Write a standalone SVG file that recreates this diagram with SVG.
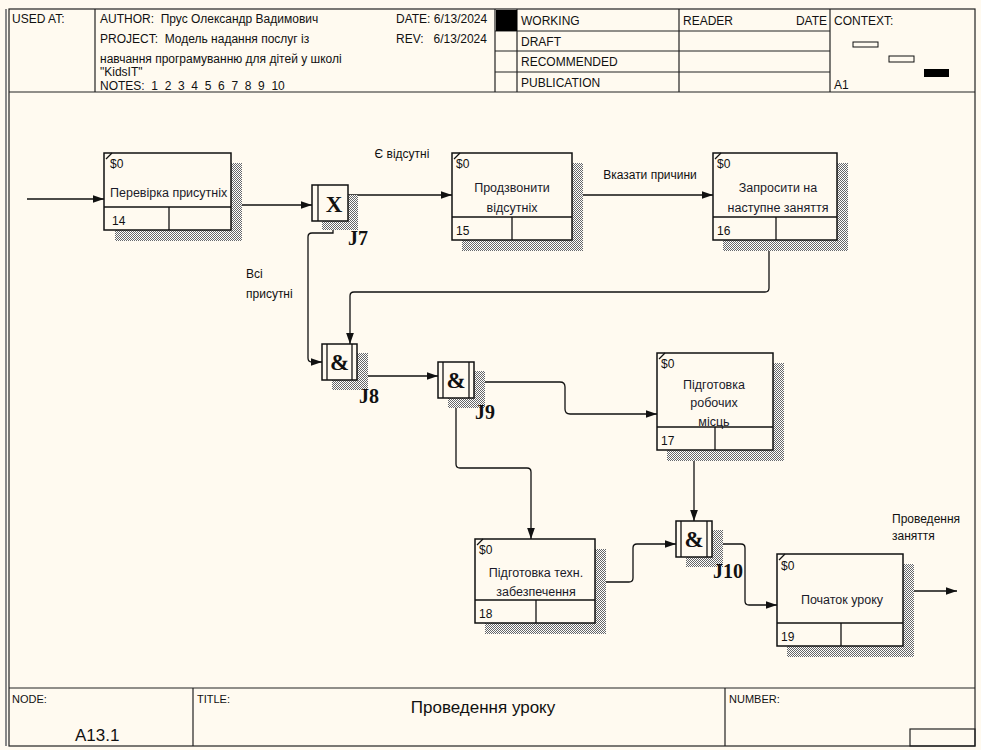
<svg xmlns="http://www.w3.org/2000/svg" width="981" height="750" viewBox="0 0 981 750">
<style>
.t{font-family:"Liberation Sans",Arial,sans-serif;font-size:12px;fill:#111}
.ts{font-family:"Liberation Sans",Arial,sans-serif;font-size:11px;fill:#111}
.tc{font-family:"Liberation Sans",Arial,sans-serif;font-size:12.5px;fill:#1a1a2a;text-anchor:middle}
.tb{font-family:"Liberation Sans",Arial,sans-serif;font-size:12.5px;fill:#1a1a2a}
.big{font-family:"Liberation Sans",Arial,sans-serif;font-size:17px;fill:#111}
.jl{font-family:"Liberation Serif","Times New Roman",serif;font-size:20px;font-weight:bold;fill:#111}
.js{font-family:"Liberation Serif","Times New Roman",serif;font-size:23px;font-weight:bold;fill:#111;text-anchor:middle}
.ln{fill:none;stroke:#111;stroke-width:1.3}
.box{fill:#fffaf0;stroke:#111;stroke-width:1.5}
.fr{fill:none;stroke:#222;stroke-width:1.2}
.sh{fill:url(#hatch)}
.c{fill:none;stroke:#111;stroke-width:1.3;marker-end:url(#arr)}
</style>
<defs>
<pattern id="hatch" width="2" height="2" patternUnits="userSpaceOnUse"><rect width="2" height="2" fill="#fff"/><rect width="1" height="1" fill="#666"/><rect x="1" y="1" width="1" height="1" fill="#666"/></pattern>
<marker id="arr" viewBox="0 0 10 7" refX="10" refY="3.5" markerWidth="11" markerHeight="8" markerUnits="userSpaceOnUse" orient="auto"><path d="M0,0 L10,3.5 L0,7 z" fill="#111"/></marker>
</defs>
<rect width="981" height="750" fill="#fffaf0"/>
<g id="frame">
<line x1="6" y1="9" x2="6" y2="746" stroke="#888" stroke-width="2"/>
<rect x="9" y="9" width="966" height="737" class="fr"/>
<line x1="9" y1="92" x2="975" y2="92" class="fr"/>
<line x1="9" y1="688" x2="975" y2="688" class="fr"/>
<line x1="95" y1="9" x2="95" y2="92" class="fr"/>
<line x1="495" y1="9" x2="495" y2="92" class="fr"/>
<line x1="517" y1="9" x2="517" y2="92" class="fr"/>
<line x1="679" y1="9" x2="679" y2="92" class="fr"/>
<line x1="830" y1="9" x2="830" y2="92" class="fr"/>
<line x1="495" y1="31" x2="830" y2="31" class="fr"/>
<line x1="495" y1="51" x2="830" y2="51" class="fr"/>
<line x1="495" y1="72" x2="830" y2="72" class="fr"/>
<rect x="496" y="10" width="21" height="21" fill="#000"/>
<rect x="853" y="42" width="25" height="5" fill="#fffaf0" stroke="#111" stroke-width="1"/>
<rect x="889" y="56" width="25" height="6" fill="#fffaf0" stroke="#111" stroke-width="1"/>
<rect x="924" y="69" width="25" height="8" fill="#000"/>
<text class="t" x="12" y="23">USED AT:</text>
<text class="t" x="100" y="23" xml:space="preserve">AUTHOR:  Прус Олександр Вадимович</text>
<text class="t" x="100" y="43" xml:space="preserve">PROJECT:  Модель надання послуг із</text>
<text class="t" x="100" y="63">навчання програмуванню для дітей у школі</text>
<text class="t" x="100" y="76" font-size="11">"KidsIT"</text>
<text class="t" x="100" y="90" xml:space="preserve">NOTES:  1  2  3  4  5  6  7  8  9  10</text>
<text class="t" x="396" y="23">DATE: 6/13/2024</text>
<text class="t" x="396" y="43" xml:space="preserve">REV:   6/13/2024</text>
<text class="t" x="521" y="25">WORKING</text>
<text class="t" x="521" y="46">DRAFT</text>
<text class="t" x="521" y="66">RECOMMENDED</text>
<text class="t" x="521" y="87">PUBLICATION</text>
<text class="t" x="683" y="25">READER</text>
<text class="t" x="827" y="25" text-anchor="end">DATE</text>
<text class="t" x="834" y="25">CONTEXT:</text>
<text class="t" x="834" y="89">A1</text>
<line x1="193" y1="688" x2="193" y2="746" class="fr"/>
<line x1="725" y1="688" x2="725" y2="746" class="fr"/>
<rect x="910" y="729" width="65" height="17" class="fr"/>
<text class="ts" x="12" y="703">NODE:</text>
<text class="ts" x="197" y="703">TITLE:</text>
<text class="ts" x="729" y="703">NUMBER:</text>
<text class="big" x="75" y="741">A13.1</text>
<text class="big" x="483" y="713" text-anchor="middle">Проведення уроку</text>
</g>
<g id="connectors">
<path class="c" d="M27,199 H104"/>
<path class="c" d="M231,205 H312"/>
<path class="c" d="M348,195 H452"/>
<path class="c" d="M572,195 H713"/>
<path class="c" d="M333,221 V233 H312 Q308,233 308,237 V358 Q308,362 312,362 H322"/>
<path class="c" d="M769,240 V288 Q769,292 765,292 H354 Q350,292 350,296 V344"/>
<path class="c" d="M357,376 H438"/>
<path class="c" d="M474,382 H560 Q565,382 565,387 V409 Q565,414 570,414 H657"/>
<path class="c" d="M456,398 V464 Q456,468 460,468 H527 Q531,468 531,472 V539"/>
<path class="c" d="M694,450 V521"/>
<path class="c" d="M595,582 H629 Q633,582 633,578 V548 Q633,544 637,544 H676"/>
<path class="c" d="M712,544 H741 Q745,544 745,548 V601 Q745,605 749,605 H777"/>
<path class="c" d="M903,591 H957"/>
<text class="t" x="402" y="158" text-anchor="middle">Є відсутні</text>
<text class="t" x="650" y="179" text-anchor="middle">Вказати причини</text>
<text class="t" x="246" y="278">Всі</text>
<text class="t" x="246" y="298">присутні</text>
<text class="t" x="892" y="523">Проведення</text>
<text class="t" x="892" y="540">заняття</text>
</g>
<g id="box14">
<rect class="sh" x="231" y="163" width="11" height="78"/>
<rect class="sh" x="115" y="230" width="127" height="11"/>
<rect class="box" x="104" y="153" width="127" height="77"/>
<line class="ln" x1="104" y1="207" x2="231" y2="207"/>
<line class="ln" x1="169" y1="207" x2="169" y2="230"/>
<line class="ln" x1="106" y1="159" x2="112" y2="153"/>
<text class="t" x="110" y="168">$0</text>
<text class="tb" x="110" y="197">Перевірка присутніх</text>
<text class="t" x="112" y="225">14</text>
</g>
<g id="box15">
<rect class="sh" x="572" y="163" width="11" height="88"/>
<rect class="sh" x="462" y="240" width="121" height="11"/>
<rect class="box" x="452" y="153" width="120" height="87"/>
<line class="ln" x1="452" y1="217" x2="572" y2="217"/>
<line class="ln" x1="512" y1="217" x2="512" y2="240"/>
<line class="ln" x1="454" y1="159" x2="460" y2="153"/>
<text class="t" x="456" y="168">$0</text>
<text class="tc" x="512" y="192">Продзвонити</text>
<text class="tc" x="512" y="212">відсутніх</text>
<text class="t" x="456" y="235">15</text>
</g>
<g id="box16">
<rect class="sh" x="837" y="163" width="11" height="88"/>
<rect class="sh" x="723" y="240" width="125" height="11"/>
<rect class="box" x="713" y="153" width="124" height="87"/>
<line class="ln" x1="713" y1="217" x2="837" y2="217"/>
<line class="ln" x1="776" y1="217" x2="776" y2="240"/>
<line class="ln" x1="715" y1="159" x2="721" y2="153"/>
<text class="t" x="717" y="168">$0</text>
<text class="tc" x="778" y="192">Запросити на</text>
<text class="tc" x="778" y="212">наступне заняття</text>
<text class="t" x="717" y="235">16</text>
</g>
<g id="box17">
<rect class="sh" x="773" y="363" width="11" height="98"/>
<rect class="sh" x="667" y="450" width="117" height="11"/>
<rect class="box" x="657" y="353" width="116" height="97"/>
<line class="ln" x1="657" y1="427" x2="773" y2="427"/>
<line class="ln" x1="715" y1="427" x2="715" y2="450"/>
<line class="ln" x1="659" y1="359" x2="665" y2="353"/>
<text class="t" x="661" y="368">$0</text>
<text class="tc" x="714" y="389">Підготовка</text>
<text class="tc" x="714" y="407">робочих</text>
<text class="tc" x="714" y="426">місць</text>
<text class="t" x="661" y="445">17</text>
</g>
<g id="box18">
<rect class="sh" x="595" y="549" width="11" height="85"/>
<rect class="sh" x="485" y="623" width="121" height="11"/>
<rect class="box" x="475" y="539" width="120" height="84"/>
<line class="ln" x1="475" y1="600" x2="595" y2="600"/>
<line class="ln" x1="536" y1="600" x2="536" y2="623"/>
<line class="ln" x1="477" y1="545" x2="483" y2="539"/>
<text class="t" x="479" y="554">$0</text>
<text class="tc" x="536" y="577">Підготовка техн.</text>
<text class="tc" x="536" y="596">забезпечення</text>
<text class="t" x="479" y="618">18</text>
</g>
<g id="box19">
<rect class="sh" x="903" y="564" width="11" height="93"/>
<rect class="sh" x="787" y="646" width="127" height="11"/>
<rect class="box" x="777" y="554" width="126" height="92"/>
<line class="ln" x1="777" y1="623" x2="903" y2="623"/>
<line class="ln" x1="841" y1="623" x2="841" y2="646"/>
<line class="ln" x1="779" y1="560" x2="785" y2="554"/>
<text class="t" x="781" y="570">$0</text>
<text class="tc" x="842" y="604">Початок уроку</text>
<text class="t" x="781" y="641">19</text>
</g>
<g id="J7">
<rect class="sh" x="348" y="195" width="10" height="35"/>
<rect class="sh" x="322" y="221" width="36" height="9"/>
<rect class="box" x="312" y="185" width="36" height="36"/>
<line class="ln" x1="318" y1="185" x2="318" y2="221"/>
<text class="js" x="334" y="212">X</text>
<text class="jl" x="348" y="245">J7</text>
</g>
<g id="J8">
<rect class="sh" x="357" y="353" width="11" height="37"/>
<rect class="sh" x="332" y="380" width="36" height="10"/>
<rect class="box" x="322" y="344" width="35" height="36"/>
<line class="ln" x1="327" y1="344" x2="327" y2="380"/>
<line class="ln" x1="352" y1="344" x2="352" y2="380"/>
<text class="js" x="339.5" y="370">&amp;</text>
<text class="jl" x="359" y="403">J8</text>
</g>
<g id="J9">
<rect class="sh" x="474" y="371" width="11" height="37"/>
<rect class="sh" x="448" y="398" width="37" height="10"/>
<rect class="box" x="438" y="362" width="36" height="36"/>
<line class="ln" x1="443" y1="362" x2="443" y2="398"/>
<line class="ln" x1="469" y1="362" x2="469" y2="398"/>
<text class="js" x="456" y="388">&amp;</text>
<text class="jl" x="475" y="419">J9</text>
</g>
<g id="J10">
<rect class="sh" x="712" y="530" width="11" height="37"/>
<rect class="sh" x="686" y="557" width="37" height="10"/>
<rect class="box" x="676" y="521" width="36" height="36"/>
<line class="ln" x1="681" y1="521" x2="681" y2="557"/>
<line class="ln" x1="707" y1="521" x2="707" y2="557"/>
<text class="js" x="694" y="547">&amp;</text>
<text class="jl" x="713" y="578">J10</text>
</g>
</svg>
